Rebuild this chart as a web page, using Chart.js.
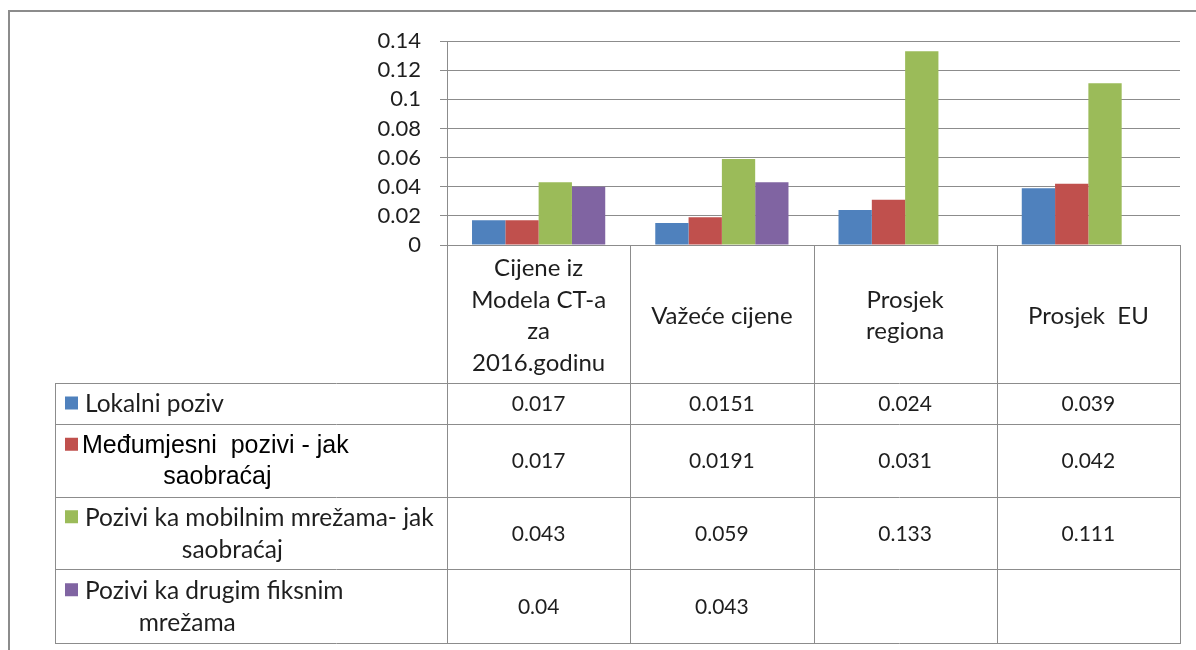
<!DOCTYPE html>
<html>
<head>
<meta charset="utf-8">
<script src="https://cdn.jsdelivr.net/npm/chart.js@4.4.1/dist/chart.umd.min.js"></script>
<style>
    html, body { margin: 0; padding: 0; background: #fff; }
    #wrap { width: 1196px; height: 650px; }
</style>
</head>
<body>
<div id="wrap"><canvas id="chart" width="1196" height="650"></canvas></div>
<script>
// === Data ===
const categories = [['Cijene iz', 'Modela CT-a', 'za', '2016.godinu'], ['Važeće cijene'], ['Prosjek', 'regiona'], ['Prosjek  EU']];
const seriesNames = [
    ['Lokalni poziv'],
    ['Međumjesni  pozivi - jak', 'saobraćaj'],
    ['Pozivi ka mobilnim mrežama- jak', 'saobraćaj'],
    ['Pozivi ka drugim fiksnim', 'mrežama']
];
const lokalniPoziv = [0.017, 0.0151, 0.024, 0.039];
const medjumjesniPozivi = [0.017, 0.0191, 0.031, 0.042];
const poziviMobilne = [0.043, 0.059, 0.133, 0.111];
const poziviFiksne = [0.04, 0.043, null, null];
const seriesColors = ['#4f81bd', '#c0504d', '#9bbb59', '#8064a2'];
const yTickLabels = ['0', '0.02', '0.04', '0.06', '0.08', '0.1', '0.12', '0.14'];

const allSeries = [lokalniPoziv, medjumjesniPozivi, poziviMobilne, poziviFiksne];

const FONT = 'Lato';
const LINE = '#8c8c8c';
const TEXT = '#1e1e1e';

// row borders of the data table under the plot
const rowEdges = [383, 424, 497, 569, 643];
const tableLeft = 55;

// === Frame + data table drawn with the x scale ===
const tablePlugin = {
    id: 'dataTable',
    beforeDraw(chart) {
        const ctx = chart.ctx;
        ctx.save();
        ctx.strokeStyle = LINE;
        ctx.lineWidth = 2;
        ctx.beginPath();
        ctx.moveTo(9, 650);
        ctx.lineTo(9, 11);
        ctx.lineTo(1196, 11);
        ctx.stroke();
        ctx.restore();
    },
    afterDraw(chart) {
        const ctx = chart.ctx;
        const x = chart.scales.x;
        const top = chart.chartArea.bottom;
        const colW = (x.right - x.left) / categories.length;
        const bottom = rowEdges[rowEdges.length - 1];

        ctx.save();
        ctx.strokeStyle = LINE;
        ctx.lineWidth = 1;
        ctx.beginPath();
        // vertical column lines
        for (let i = 0; i <= categories.length; i++) {
            const px = Math.round(x.left + i * colW) + 0.5;
            ctx.moveTo(px, top);
            ctx.lineTo(px, bottom);
        }
        ctx.moveTo(tableLeft + 0.5, rowEdges[0]);
        ctx.lineTo(tableLeft + 0.5, bottom);
        // horizontal row lines
        rowEdges.forEach(y => {
            ctx.moveTo(tableLeft, y + 0.5);
            ctx.lineTo(x.right + 1, y + 0.5);
        });
        ctx.stroke();

        // header: category names
        ctx.fillStyle = TEXT;
        ctx.textAlign = 'center';
        ctx.textBaseline = 'middle';
        ctx.font = '24px ' + FONT;
        const headMid = (top + rowEdges[0]) / 2 + 2;
        const lh = 31.5;
        categories.forEach((lines, i) => {
            const cx = x.getPixelForValue(i);
            lines.forEach((t, j) => {
                ctx.fillText(t, cx, headMid + (j - (lines.length - 1) / 2) * lh);
            });
        });

        // rows: legend key, series name, values
        allSeries.forEach((vals, r) => {
            const y0 = rowEdges[r], y1 = rowEdges[r + 1];
            const mid = (y0 + y1) / 2;
            vals.forEach((v, i) => {
                if (v === null) return;
                ctx.textAlign = 'center';
                ctx.font = '21px ' + FONT;
                ctx.fillStyle = TEXT;
                ctx.fillText(String(v), x.getPixelForValue(i), mid + 1);
            });

            const lines = seriesNames[r];
            const big = r === 1;
            ctx.font = big ? '25px "Liberation Sans"' : '24.5px ' + FONT;
            const firstY = mid - (lines.length - 1) / 2 * lh;
            ctx.fillStyle = seriesColors[r];
            ctx.fillRect(65, firstY - 7, 13, 13);
            ctx.fillStyle = big ? '#000' : TEXT;
            ctx.textAlign = 'left';
            const tx = big ? 82 : 85;
            ctx.fillText(lines[0], tx, firstY + 1);
            if (lines.length > 1) {
                const w = ctx.measureText(lines[0]).width;
                ctx.textAlign = 'center';
                ctx.fillText(lines[1], tx + w / 2 + (big ? 2 : -27), firstY + lh + 1);
            }
        });
        ctx.restore();
    }
};

// === Chart setup ===
const chart = new Chart(document.getElementById('chart').getContext('2d'), {
    type: 'bar',
    data: {
        labels: categories,
        datasets: allSeries.map((vals, i) => ({
            label: seriesNames[i].join(' '),
            data: vals,
            backgroundColor: seriesColors[i],
            borderWidth: 0,
            categoryPercentage: 0.727,
            barPercentage: 1.0
        }))
    },
    options: {
        responsive: false,
        animation: false,
        layout: { padding: { top: 41, right: 16, left: 0, bottom: 0 } },
        plugins: {
            legend: { display: false },
            tooltip: { enabled: false }
        },
        scales: {
            x: {
                ticks: { display: false },
                grid: { display: false },
                border: { display: false },
                afterFit: s => { s.height = 405; }
            },
            y: {
                min: 0,
                max: 0.14,
                ticks: {
                    stepSize: 0.02,
                    autoSkip: false,
                    padding: 19,
                    color: TEXT,
                    font: { family: FONT, size: 22 },
                    callback: (v, i) => yTickLabels[i]
                },
                grid: { color: LINE, lineWidth: 1, tickLength: 7 },
                border: { color: LINE, width: 1 },
                afterFit: s => { s.width = 447; }
            }
        }
    },
    plugins: [tablePlugin]
});
</script>
</body>
</html>
